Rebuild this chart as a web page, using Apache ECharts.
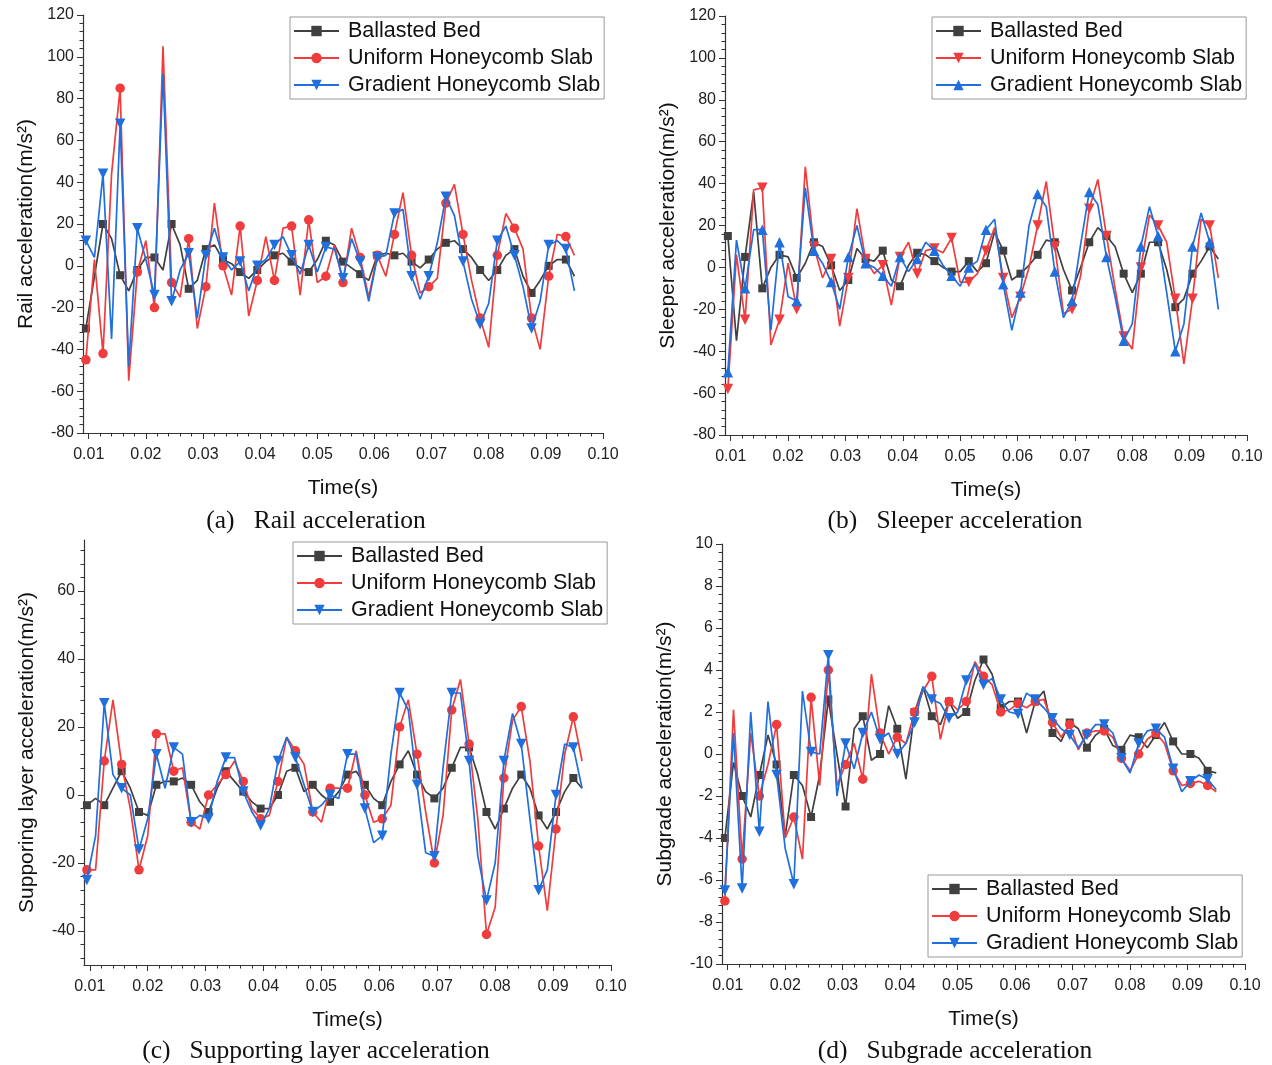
<!DOCTYPE html>
<html>
<head>
<meta charset="utf-8">
<script src="https://cdn.jsdelivr.net/npm/echarts@6/dist/echarts.min.js"></script>
<style>
html, body { margin: 0; padding: 0; background: #fff; }
#chart { width: 1272px; height: 1065px; }
</style>
</head>
<body>
<div id="chart"></div>
<script>
var chart = echarts.init(document.getElementById('chart'));

// time axis (s)
var time = [0.0095, 0.011, 0.0125, 0.014, 0.0155, 0.017, 0.0185, 0.02, 0.0215, 0.023,
    0.0245, 0.026, 0.0275, 0.029, 0.0305, 0.032, 0.0335, 0.035, 0.0365, 0.038,
    0.0395, 0.041, 0.0425, 0.044, 0.0455, 0.047, 0.0485, 0.05, 0.0515, 0.053,
    0.0545, 0.056, 0.0575, 0.059, 0.0605, 0.062, 0.0635, 0.065, 0.0665, 0.068,
    0.0695, 0.071, 0.0725, 0.074, 0.0755, 0.077, 0.0785, 0.08, 0.0815, 0.083,
    0.0845, 0.086, 0.0875, 0.089, 0.0905, 0.092, 0.0935, 0.095];

var xMajor = [0.01, 0.02, 0.03, 0.04, 0.05, 0.06, 0.07, 0.08, 0.09, 0.10];

// (a) rail
var railBallast = [-30, -5, 20, 13, -4.5, -12, -2, 4, 4, -2, 20, 10, -11, -7, 8, 10, 3, 1, -3, -6,
    -2, 2, 5, 6, 2, -1, -3, 3, 12, 10,
    2, -1, -4, -7, 5, 6, 5, 6, 2, -1, 3, 8, 11, 12, 8, 4, -2, -7, -2, 5, 8, -5, -13, -7, 0, 3, 3, -5];
var railUniform = [-45, 3, -42, 44, 85, -55, -3, 12, -20, 105, -8, -15, 13, -30, -10, 30, 0, -14, 19, -24,
    -7, 14, -7, 18, 19, -14, 22, -8, -5, 10,
    -8, 18, 4, -15, 5, -5, 15, 35, 5, -13, -10, -6, 30, 39, 15, -7, -25, -39, 5, 25, 18, 8, -25, -40, -5, 15, 14, 5];
var railGradient = [12, 4, 44, -35, 68, -48, 18, 3, -14, 92, -17, -2, 6, -25, 5, 18, 4, -2, 2, -12,
    0, 3, 10, 14, 5, -4, 10, -3, 9, 8,
    -6, 13, 2, -17, 4, 5, 25, 27, -5, -16, -5, 11, 33, 24, 2, -16, -28, -18, 12, 19, 5, -10, -30, -17, 10, 12, 8, -12];

// (b) sleeper
var sleeperBallast = [15, -35, 5, 36, -10, 0, 6, 5, -5, 2, 12, 10, 1, -11, -6, 9, 4, 3, 8, -6,
    -9, 1, 7, 6, 3, 0, -2, -2, 3, -2,
    2, 17, 8, -6, -3, 1, 6, 13, 12, -1, -11, 0, 12, 19, 15, 10, -3, -12, -3, 12, 12, -1, -19, -15, -3, 3, 10, 4];
var sleeperUniform = [-58, 6, -25, 37, 38, -37, -25, 2, -20, 48, 10, -5, 4, -28, -5, 28, 4, -3, 1, -18,
    5, 12, -3, 8, 9, 7, 14, -7, -7, -3,
    8, 19, -5, -24, -14, 0, 20, 41, 10, -22, -20, -4, 28, 42, 15, -10, -33, -39, 0, 25, 20, 12, -15, -46, -15, 23, 20, -5];
var sleeperGradient = [-50, 13, -10, 18, 18, -30, 12, -14, -16, 38, 8, 2, -7, -20, 5, 20, 2, 0, -4, -9,
    5, -2, 4, 12, 8, 1, -4, -9, 0, 3,
    18, 23, -8, -30, -12, 20, 35, 29, -2, -24, -16, 11, 36, 30, 5, -14, -35, -27, 10, 29, 15, -12, -40, -27, 10, 26, 12, -20];

// (c) supporting layer
var supportBallast = [-3, -1, -3, 2, 7, 2, -5, -6, 3, 4, 4, 5, 3, -2, -5, 2, 7, 4, 1, -2,
    -4, -4, 0, 7, 8, 1, 3, 0, -2, 1,
    6, 7, 3, -1, -3, 4, 9, 13, 6, 1, -1, 2, 8, 14, 14, 6, -5, -10, -4, 2, 6, 2, -6, -10, -5, 1, 5, 2];
var supportUniform = [-22, -22, 10, 28, 9, -4, -22, -12, 18, 18, 7, 8, -8, -10, 0, 3, 6, 10, 4, -4,
    -7, -6, 4, 17, 13, 9, -5, -8, 2, 2,
    2, 13, 0, -8, -7, -3, 20, 28, 12, -5, -20, -6, 25, 34, 15, -7, -41, -33, 5, 22, 26, 10, -15, -34, -10, 12, 23, 10];
var supportGradient = [-25, -12, 27, 6, 2, 0, -16, -7, 12, 2, 14, 12, -8, -6, -7, 4, 11, 11, 1, -5,
    -9, -4, 10, 17, 11, 3, -5, -3, 0, -1,
    12, 12, -4, -14, -12, 12, 30, 25, 3, -17, -18, 8, 30, 30, 10, -18, -31, -20, 10, 24, 15, -7, -28, -22, 0, 15, 14, 2];

// (d) subgrade
var subgradeBallast = [-4, -0.4, -2, -3, -1, 0.9, -0.5, -3.9, -1, -1.5, -3, -1, 2.6, 0, -2.5, 1.2, 1.8, -0.3, 0, 2.3,
    1.2, -1.2, 2, 3.2, 1.8, 1.4, 2.5, 1.7, 2, 3.5,
    4.5, 3.8, 2.2, 2.5, 2.5, 1, 2.5, 3, 1, 0.6, 1.5, 1.2, 0.3, 0.9, 1.2, 0.4, 0.2, 0.9, 0.8, 0.3,
    0.9, 1.5, 0.6, 0, 0, -0.2, -0.8, -0.9];
var subgradeUniform = [-7, 2.1, -5, 1, -2, -0.5, 1.4, -4, -3, -5, 2.7, -1.5, 4, -1.5, -0.5, 0.5, -1.2, 3.8, 1, 0,
    0.8, 0.5, 2, 3, 3.7, 0.7, 2.5, 2.1, 2.5, 4.4,
    3.7, 3.3, 2, 2.1, 2.4, 2.2, 2.5, 2.6, 1.5, 0.8, 1.4, 0.2, 1, 1.1, 1.1, 0.8, -0.2, -0.8, 0, 0.7,
    1, 0.5, -0.8, -1.5, -1.4, -1.3, -1.5, -1.8];
var subgradeGradient = [-6.5, 1, -6.4, 2, -3.7, 2.5, -1, -4.5, -6.2, 3, 0.1, 0, 4.7, -2, 0.5, -0.7, 1, 2, 0.7, 1,
    0, 0.5, 1.5, 3.2, 2.6, 2.4, 1.7, 2, 3.5, 4.3,
    3.3, 3.6, 2.6, 2, 1.9, 2.9, 2.6, 2.2, 1.7, 1.2, 0.9, 0.3, 0.9, 1.4, 1.4, 1, -0.2, -0.9, 0.5, 1.1,
    1.2, 0.8, -0.7, -1.8, -1.3, -1, -1.2, -1.7];

var names = ['Ballasted Bed', 'Uniform Honeycomb Slab', 'Gradient Honeycomb Slab'];
var colors = ['#404040', '#f03c3c', '#1f6fdc'];
var font = 'Liberation Sans';

var panels = [
    { grid: { left: 83, top: 15, width: 520, height: 418 }, y: [-80, 120, 20], yName: 'Rail acceleration(m/s²)',
      legend: { left: 290, top: 17 }, data: [railBallast, railUniform, railGradient],
      symbols: [['rect', 0], ['circle', 0], ['triangle', 180]], caption: [316, 521, '(a)   Rail acceleration'] },
    { grid: { left: 725, top: 16, width: 522, height: 419 }, y: [-80, 120, 20], yName: 'Sleeper acceleration(m/s²)',
      legend: { left: 932, top: 17 }, data: [sleeperBallast, sleeperUniform, sleeperGradient],
      symbols: [['rect', 0], ['triangle', 180], ['triangle', 0]], caption: [955, 521, '(b)   Sleeper acceleration'] },
    { grid: { left: 84, top: 540, width: 527, height: 425 }, y: [-50, 75, 20], yName: 'Supporing layer acceleration(m/s²)',
      legend: { left: 293, top: 542 }, data: [supportBallast, supportUniform, supportGradient],
      symbols: [['rect', 0], ['circle', 0], ['triangle', 180]], caption: [316, 1051, '(c)   Supporting layer acceleration'] },
    { grid: { left: 722, top: 544, width: 523, height: 420 }, y: [-10, 10, 2], yName: 'Subgrade acceleration(m/s²)',
      legend: { left: 928, top: 875 }, data: [subgradeBallast, subgradeUniform, subgradeGradient],
      symbols: [['rect', 0], ['circle', 0], ['triangle', 180]], caption: [955, 1051, '(d)   Subgrade acceleration'] }
];

// tick positions: all ticks (major + minor) and major ticks only
function ticks(min, max, step, majorStep) {
    var all = [], major = [];
    var start = Math.ceil(min / step - 1e-9);
    for (var n = start; n * step <= max + 1e-9; n++) {
        var v = +(n * step).toFixed(6);
        all.push(v);
        var r = v / majorStep;
        if (Math.abs(r - Math.round(r)) < 1e-6) major.push(v);
    }
    return { all: all, major: major };
}
var xt = ticks(0.009, 0.1, 0.002, 0.01);

var axisColor = '#333';
var nameStyle = { color: '#111', fontSize: 21, fontFamily: font };

var grids = [], xAxes = [], yAxes = [], legends = [], series = [], graphics = [];
var majorX = [], majorY = [];

panels.forEach(function (p, i) {
    grids.push(p.grid);
    // main x axis: line, labels, short ticks everywhere
    xAxes.push({
        type: 'value', gridIndex: i, position: 'bottom', min: 0.009, max: 0.1,
        name: 'Time(s)', nameLocation: 'middle', nameGap: 45, nameTextStyle: nameStyle,
        axisLine: { show: true, onZero: false, lineStyle: { color: axisColor, width: 1.2 } },
        axisTick: { show: true, customValues: xt.all, length: 3.5, lineStyle: { color: axisColor } },
        axisLabel: { customValues: xMajor, margin: 14, formatter: function (v) { return v.toFixed(2); }, color: '#222', fontSize: 16, fontFamily: font },
        splitLine: { show: false }
    });
    // overlay axis: long major ticks
    majorX.push({
        type: 'value', gridIndex: i, position: 'bottom', offset: 0, min: 0.009, max: 0.1,
        axisLine: { show: false, onZero: false },
        axisTick: { show: true, customValues: xt.major, length: 6, lineStyle: { color: axisColor } },
        axisLabel: { show: false },
        splitLine: { show: false }
    });
    var t = ticks(p.y[0], p.y[1], p.y[2] / 5, p.y[2]);
    yAxes.push({
        type: 'value', gridIndex: i, position: 'left', min: p.y[0], max: p.y[1],
        name: p.yName, nameLocation: 'middle', nameGap: 46, nameTextStyle: nameStyle,
        axisLine: { show: true, onZero: false, lineStyle: { color: axisColor, width: 1.2 } },
        axisTick: { show: true, customValues: t.all, length: 3.5, lineStyle: { color: axisColor } },
        axisLabel: { customValues: t.major, margin: 9, color: '#222', fontSize: 16, fontFamily: font },
        splitLine: { show: false }
    });
    majorY.push({
        type: 'value', gridIndex: i, position: 'left', offset: 0, min: p.y[0], max: p.y[1],
        axisLine: { show: false, onZero: false },
        axisTick: { show: true, customValues: t.major, length: 6, lineStyle: { color: axisColor } },
        axisLabel: { show: false },
        splitLine: { show: false }
    });

    legends.push({
        left: p.legend.left, top: p.legend.top, orient: 'vertical',
        data: names.map(function (n) { return n + '#' + i; }),
        formatter: function (n) { return n.split('#')[0]; },
        itemWidth: 45, itemHeight: 13, itemGap: 5,
        padding: [3, 4, 3, 3],
        borderColor: '#999', borderWidth: 1,
        textStyle: { fontSize: 21.5, fontFamily: font, color: '#111', lineHeight: 22, padding: [0, 0, 0, 4] }
    });

    p.data.forEach(function (vals, s) {
        var sym = p.symbols[s];
        var size = sym[0] === 'rect' ? 8 : (sym[0] === 'circle' ? 9.5 : 10.5);
        series.push({
            name: names[s] + '#' + i, type: 'line', xAxisIndex: i, yAxisIndex: i,
            data: time.map(function (t, j) { return [t, vals[j]]; }),
            symbol: sym[0], symbolRotate: sym[1], showAllSymbol: true,
            symbolSize: function (v, params) { return params.dataIndex % 2 === 0 ? size : 0; },
            lineStyle: { color: colors[s], width: 1.7 },
            itemStyle: { color: colors[s] },
            z: 2 + s
        });
    });

    graphics.push({
        type: 'text', x: p.caption[0], y: p.caption[1],
        style: { text: p.caption[2], fill: '#111', font: '25.5px "Liberation Serif"', align: 'center', verticalAlign: 'middle' }
    });
});

chart.setOption({
    animation: false,
    backgroundColor: '#fff',
    grid: grids,
    xAxis: xAxes.concat(majorX),
    yAxis: yAxes.concat(majorY),
    legend: legends,
    series: series,
    graphic: graphics
});
</script>
</body>
</html>
